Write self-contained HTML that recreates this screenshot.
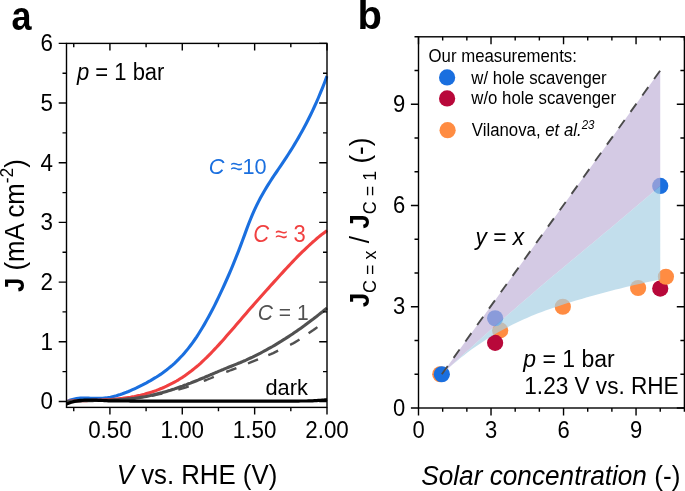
<!DOCTYPE html>
<html><head><meta charset="utf-8"><title>figure</title>
<style>html,body{margin:0;padding:0;background:#fff;}body{width:685px;height:491px;overflow:hidden;}svg{display:block;will-change:transform;font-family:"Liberation Sans",sans-serif;}text{fill:#000;}</style></head><body>
<svg width="685" height="491" viewBox="0 0 685 491">
<rect x="0" y="0" width="685" height="491" fill="#ffffff"/>
<g id="panelA">
<defs><clipPath id="clipA"><rect x="66.50" y="43.40" width="262.00" height="364.00"/></clipPath></defs>
<g clip-path="url(#clipA)" fill="none" stroke-linecap="butt" stroke-linejoin="round">
<path d="M66.5,401.9 L68.5,400.9 L70.5,400.0 L72.5,399.4 L74.5,398.9 L76.5,398.5 L78.5,398.2 L80.5,398.0 L82.5,398.0 L84.5,398.0 L86.5,398.0 L88.5,398.1 L90.5,398.2 L92.5,398.3 L94.5,398.4 L96.5,398.4 L98.5,398.4 L100.5,398.4 L102.5,398.3 L104.5,398.1 L106.5,397.9 L108.5,397.5 L110.5,397.2 L112.5,396.7 L114.5,396.2 L116.5,395.7 L118.5,395.1 L120.5,394.5 L122.5,393.8 L124.5,393.0 L126.5,392.3 L128.5,391.5 L130.5,390.6 L132.5,389.7 L134.5,388.8 L136.5,387.9 L138.5,386.9 L140.5,385.9 L142.5,384.9 L144.5,383.8 L146.5,382.8 L148.5,381.7 L150.5,380.6 L152.5,379.4 L154.5,378.2 L156.5,377.0 L158.5,375.7 L160.5,374.4 L162.5,373.0 L164.5,371.5 L166.5,370.0 L168.5,368.4 L170.5,366.8 L172.5,365.1 L174.5,363.3 L176.5,361.4 L178.5,359.4 L180.5,357.3 L182.5,355.2 L184.5,352.9 L186.5,350.6 L188.5,348.1 L190.5,345.5 L192.5,342.8 L194.5,340.0 L196.5,337.1 L198.5,334.0 L200.5,330.8 L202.5,327.5 L204.5,324.1 L206.5,320.6 L208.5,317.0 L210.5,313.3 L212.5,309.5 L214.5,305.6 L216.5,301.5 L218.5,297.4 L220.5,293.2 L222.5,288.9 L224.5,284.5 L226.5,280.0 L228.5,275.5 L230.5,270.8 L232.5,266.1 L234.5,261.2 L236.5,256.2 L238.5,251.1 L240.5,245.9 L242.5,240.5 L244.5,235.1 L246.5,229.6 L248.5,224.3 L250.5,219.2 L252.5,214.4 L254.5,209.9 L256.5,205.7 L258.5,201.6 L260.5,197.8 L262.5,194.2 L264.5,190.7 L266.5,187.4 L268.5,184.1 L270.5,181.0 L272.5,177.9 L274.5,174.9 L276.5,172.0 L278.5,169.0 L280.5,166.1 L282.5,163.1 L284.5,160.1 L286.5,157.1 L288.5,154.0 L290.5,150.9 L292.5,147.7 L294.5,144.4 L296.5,141.0 L298.5,137.6 L300.5,134.1 L302.5,130.5 L304.5,126.8 L306.5,123.0 L308.5,119.0 L310.5,115.0 L312.5,110.8 L314.5,106.5 L316.5,102.1 L318.5,97.5 L320.5,92.7 L322.5,87.8 L324.5,82.7 L326.5,77.4 L327.0,76.1" stroke="#1a6fdf" stroke-width="3.1"/>
<path d="M66.5,401.2 L68.5,401.2 L70.5,401.1 L72.5,401.0 L74.5,400.9 L76.5,400.9 L78.5,400.8 L80.5,400.8 L82.5,400.7 L84.5,400.6 L86.5,400.6 L88.5,400.5 L90.5,400.5 L92.5,400.4 L94.5,400.3 L96.5,400.3 L98.5,400.2 L100.5,400.1 L102.5,400.0 L104.5,399.9 L106.5,399.8 L108.5,399.7 L110.5,399.5 L112.5,399.4 L114.5,399.2 L116.5,399.0 L118.5,398.8 L120.5,398.6 L122.5,398.4 L124.5,398.1 L126.5,397.8 L128.5,397.5 L130.5,397.2 L132.5,396.8 L134.5,396.5 L136.5,396.1 L138.5,395.6 L140.5,395.2 L142.5,394.7 L144.5,394.2 L146.5,393.6 L148.5,393.0 L150.5,392.4 L152.5,391.8 L154.5,391.1 L156.5,390.4 L158.5,389.6 L160.5,388.8 L162.5,388.0 L164.5,387.1 L166.5,386.2 L168.5,385.2 L170.5,384.2 L172.5,383.2 L174.5,382.1 L176.5,381.0 L178.5,379.8 L180.5,378.5 L182.5,377.3 L184.5,375.9 L186.5,374.5 L188.5,373.1 L190.5,371.6 L192.5,370.0 L194.5,368.4 L196.5,366.8 L198.5,365.1 L200.5,363.3 L202.5,361.4 L204.5,359.5 L206.5,357.6 L208.5,355.6 L210.5,353.6 L212.5,351.5 L214.5,349.4 L216.5,347.3 L218.5,345.1 L220.5,342.9 L222.5,340.7 L224.5,338.4 L226.5,336.1 L228.5,333.8 L230.5,331.5 L232.5,329.2 L234.5,326.9 L236.5,324.6 L238.5,322.2 L240.5,319.9 L242.5,317.6 L244.5,315.2 L246.5,312.9 L248.5,310.6 L250.5,308.3 L252.5,306.1 L254.5,303.8 L256.5,301.5 L258.5,299.3 L260.5,297.0 L262.5,294.8 L264.5,292.5 L266.5,290.3 L268.5,288.1 L270.5,285.8 L272.5,283.6 L274.5,281.4 L276.5,279.2 L278.5,277.0 L280.5,274.8 L282.5,272.6 L284.5,270.4 L286.5,268.2 L288.5,266.1 L290.5,264.0 L292.5,261.9 L294.5,259.8 L296.5,257.7 L298.5,255.7 L300.5,253.7 L302.5,251.7 L304.5,249.8 L306.5,247.9 L308.5,246.0 L310.5,244.1 L312.5,242.3 L314.5,240.6 L316.5,238.8 L318.5,237.1 L320.5,235.5 L322.5,233.9 L324.5,232.4 L326.5,230.9 L327.0,230.5" stroke="#f14040" stroke-width="3.1"/>
<path d="M66.5,401.6 L68.5,401.5 L70.5,401.3 L72.5,401.2 L74.5,401.1 L76.5,401.1 L78.5,401.0 L80.5,400.9 L82.5,400.8 L84.5,400.8 L86.5,400.7 L88.5,400.7 L90.5,400.6 L92.5,400.6 L94.5,400.5 L96.5,400.5 L98.5,400.5 L100.5,400.4 L102.5,400.4 L104.5,400.3 L106.5,400.2 L108.5,400.2 L110.5,400.1 L112.5,400.0 L114.5,399.9 L116.5,399.8 L118.5,399.7 L120.5,399.6 L122.5,399.5 L124.5,399.3 L126.5,399.1 L128.5,398.9 L130.5,398.7 L132.5,398.5 L134.5,398.3 L136.5,398.0 L138.5,397.7 L140.5,397.4 L142.5,397.1 L144.5,396.8 L146.5,396.4 L148.5,396.0 L150.5,395.6 L152.5,395.1 L154.5,394.6 L156.5,394.1 L158.5,393.6 L160.5,393.1 L162.5,392.6 L164.5,392.0 L166.5,391.4 L168.5,390.8 L170.5,390.2 L172.5,389.5 L174.5,388.9 L176.5,388.2 L178.5,387.5 L180.5,386.8 L182.5,386.1 L184.5,385.3 L186.5,384.6 L188.5,383.8 L190.5,383.1 L192.5,382.3 L194.5,381.5 L196.5,380.7 L198.5,379.9 L200.5,379.0 L202.5,378.2 L204.5,377.4 L206.5,376.5 L208.5,375.7 L210.5,374.8 L212.5,374.0 L214.5,373.1 L216.5,372.3 L218.5,371.4 L220.5,370.6 L222.5,369.8 L224.5,368.9 L226.5,368.1 L228.5,367.3 L230.5,366.5 L232.5,365.7 L234.5,364.9 L236.5,364.1 L238.5,363.3 L240.5,362.5 L242.5,361.6 L244.5,360.8 L246.5,359.9 L248.5,358.9 L250.5,358.0 L252.5,357.1 L254.5,356.1 L256.5,355.1 L258.5,354.1 L260.5,353.1 L262.5,352.0 L264.5,350.9 L266.5,349.8 L268.5,348.7 L270.5,347.6 L272.5,346.5 L274.5,345.3 L276.5,344.1 L278.5,342.9 L280.5,341.7 L282.5,340.4 L284.5,339.2 L286.5,337.9 L288.5,336.6 L290.5,335.3 L292.5,334.0 L294.5,332.6 L296.5,331.2 L298.5,329.8 L300.5,328.4 L302.5,327.0 L304.5,325.6 L306.5,324.1 L308.5,322.6 L310.5,321.1 L312.5,319.6 L314.5,318.0 L316.5,316.5 L318.5,314.9 L320.5,313.3 L322.5,311.7 L324.5,310.0 L326.5,308.4 L327.0,308.0" stroke="#515151" stroke-width="3.1"/>
<path d="M70.6,401.6 L73.3,401.5 L76.0,401.4 L78.7,401.3 L81.4,401.2 M97.6,400.8 L100.3,400.7 L103.0,400.7 L105.7,400.6 L108.4,400.5 M124.6,399.6 L127.3,399.4 L130.0,399.2 L132.7,398.9 L135.4,398.6 M151.7,395.8 L154.4,395.3 L157.0,394.7 L159.6,394.1 L162.3,393.5 M178.3,389.6 L180.9,388.9 L183.5,388.1 L186.1,387.3 L188.7,386.4 M203.8,380.9 L206.3,380.0 L208.8,379.0 L211.3,378.0 L213.8,376.9 M226.2,371.9 L228.8,371.0 L231.3,370.0 L233.8,369.1 L236.4,368.1 M248.0,363.5 L250.5,362.4 L253.0,361.4 L255.5,360.4 L258.0,359.4 M268.3,355.2 L270.8,354.2 L273.2,353.1 L275.6,351.9 L278.1,350.7 M290.1,344.8 L292.5,343.7 L294.8,342.4 L297.1,341.0 L299.5,339.5 M308.6,333.3 L310.8,331.8 L313.0,330.3 L315.2,328.7 L317.4,327.1" stroke="#515151" stroke-width="2.4"/>
<path d="M66.5,404.0 L68.5,403.2 L70.5,402.5 L72.5,402.0 L74.5,401.4 L76.5,401.0 L78.5,400.6 L80.5,400.4 L82.5,400.3 L84.5,400.2 L86.5,400.2 L88.5,400.2 L90.5,400.2 L92.5,400.2 L94.5,400.2 L96.5,400.2 L98.5,400.3 L100.5,400.4 L102.5,400.5 L104.5,400.6 L106.5,400.7 L108.5,400.8 L110.5,400.8 L112.5,400.8 L114.5,400.9 L116.5,400.9 L118.5,400.9 L120.5,401.0 L122.5,401.0 L124.5,401.0 L126.5,401.0 L128.5,401.0 L130.5,401.1 L132.5,401.1 L134.5,401.1 L136.5,401.1 L138.5,401.1 L140.5,401.1 L142.5,401.1 L144.5,401.1 L146.5,401.1 L148.5,401.1 L150.5,401.1 L152.5,401.1 L154.5,401.1 L156.5,401.1 L158.5,401.1 L160.5,401.1 L162.5,401.1 L164.5,401.1 L166.5,401.1 L168.5,401.1 L170.5,401.1 L172.5,401.1 L174.5,401.1 L176.5,401.1 L178.5,401.1 L180.5,401.1 L182.5,401.1 L184.5,401.1 L186.5,401.1 L188.5,401.1 L190.5,401.1 L192.5,401.1 L194.5,401.1 L196.5,401.1 L198.5,401.1 L200.5,401.1 L202.5,401.1 L204.5,401.1 L206.5,401.1 L208.5,401.1 L210.5,401.1 L212.5,401.1 L214.5,401.1 L216.5,401.1 L218.5,401.1 L220.5,401.1 L222.5,401.1 L224.5,401.1 L226.5,401.1 L228.5,401.1 L230.5,401.1 L232.5,401.1 L234.5,401.1 L236.5,401.1 L238.5,401.1 L240.5,401.1 L242.5,401.1 L244.5,401.1 L246.5,401.1 L248.5,401.1 L250.5,401.1 L252.5,401.1 L254.5,401.1 L256.5,401.1 L258.5,401.1 L260.5,401.1 L262.5,401.1 L264.5,401.1 L266.5,401.1 L268.5,401.1 L270.5,401.1 L272.5,401.1 L274.5,401.1 L276.5,401.1 L278.5,401.1 L280.5,401.1 L282.5,401.1 L284.5,401.1 L286.5,401.1 L288.5,401.1 L290.5,401.1 L292.5,401.1 L294.5,401.1 L296.5,401.1 L298.5,401.1 L300.5,401.0 L302.5,401.0 L304.5,401.0 L306.5,401.0 L308.5,400.9 L310.5,400.9 L312.5,400.8 L314.5,400.7 L316.5,400.6 L318.5,400.4 L320.5,400.3 L322.5,400.0 L324.5,399.8 L326.5,399.5 L327.0,399.4" stroke="#000000" stroke-width="3.2"/>
</g>
<g stroke="#000" stroke-width="1.4" fill="none" stroke-linecap="butt">
<rect x="66.50" y="43.40" width="260.50" height="364.00"/>
<path d="M73.74,407.40v3.80 M73.74,43.40v3.80"/>
<path d="M109.92,407.40v7.20 M109.92,43.40v7.20"/>
<path d="M146.10,407.40v3.80 M146.10,43.40v3.80"/>
<path d="M182.28,407.40v7.20 M182.28,43.40v7.20"/>
<path d="M218.46,407.40v3.80 M218.46,43.40v3.80"/>
<path d="M254.64,407.40v7.20 M254.64,43.40v7.20"/>
<path d="M290.82,407.40v3.80 M290.82,43.40v3.80"/>
<path d="M327.00,407.40v7.20 M327.00,43.40v7.20"/>
<path d="M66.50,401.43h-7.80 M327.00,401.43h-7.80"/>
<path d="M66.50,371.60h-4.00 M327.00,371.60h-4.00"/>
<path d="M66.50,341.76h-7.80 M327.00,341.76h-7.80"/>
<path d="M66.50,311.92h-4.00 M327.00,311.92h-4.00"/>
<path d="M66.50,282.09h-7.80 M327.00,282.09h-7.80"/>
<path d="M66.50,252.25h-4.00 M327.00,252.25h-4.00"/>
<path d="M66.50,222.42h-7.80 M327.00,222.42h-7.80"/>
<path d="M66.50,192.58h-4.00 M327.00,192.58h-4.00"/>
<path d="M66.50,162.74h-7.80 M327.00,162.74h-7.80"/>
<path d="M66.50,132.91h-4.00 M327.00,132.91h-4.00"/>
<path d="M66.50,103.07h-7.80 M327.00,103.07h-7.80"/>
<path d="M66.50,73.24h-4.00 M327.00,73.24h-4.00"/>
<path d="M66.50,43.40h-7.80 M327.00,43.40h-7.80"/>
</g>
<g font-size="22.4" text-anchor="middle">
<text transform="translate(109.92,437.6) scale(1,1.05)">0.50</text>
<text transform="translate(182.28,437.6) scale(1,1.05)">1.00</text>
<text transform="translate(254.64,437.6) scale(1,1.05)">1.50</text>
<text transform="translate(327.00,437.6) scale(1,1.05)">2.00</text>
</g>
<g font-size="22.4" text-anchor="end">
<text transform="translate(53,409.33) scale(1,1.05)">0</text>
<text transform="translate(53,349.66) scale(1,1.05)">1</text>
<text transform="translate(53,289.99) scale(1,1.05)">2</text>
<text transform="translate(53,230.32) scale(1,1.05)">3</text>
<text transform="translate(53,170.64) scale(1,1.05)">4</text>
<text transform="translate(53,110.97) scale(1,1.05)">5</text>
<text transform="translate(53,51.30) scale(1,1.05)">6</text>
</g>
<text transform="translate(197,483.5) scale(1,1.05)" font-size="25.8" text-anchor="middle"><tspan font-style="italic">V</tspan> vs. RHE (V)</text>
<text transform="translate(24.3,225.6) rotate(-90) scale(1,1.05)" font-size="25.8" text-anchor="middle"><tspan font-weight="bold">J</tspan> (mA cm<tspan font-size="17.5" dy="-10.5">-2</tspan><tspan dy="10.5">)</tspan></text>
<text transform="translate(11.6,29.6) scale(0.90,1)" font-size="40" font-weight="bold">a</text>
<text transform="translate(77,80) scale(1,1.05)" font-size="22"><tspan font-style="italic">p</tspan> = 1 bar</text>
<text transform="translate(208.8,174.3) scale(1,1.05)" font-size="21.7" style="fill:#1a6fdf"><tspan font-style="italic">C</tspan> ≈10</text>
<text transform="translate(253.2,242.2) scale(1,1.05)" font-size="22" style="fill:#f14040"><tspan font-style="italic">C</tspan> ≈ 3</text>
<text transform="translate(257.8,320.3) scale(1,1.05)" font-size="21" style="fill:#515151"><tspan font-style="italic">C</tspan> = 1</text>
<text transform="translate(265.4,395) scale(1,1.05)" font-size="21.8">dark</text>
</g>
<g id="panelB">
<circle cx="440.26" cy="374.25" r="8.10" fill="#ff8c42"/>
<circle cx="500.20" cy="330.39" r="8.10" fill="#ff8c42"/>
<circle cx="562.81" cy="306.76" r="8.10" fill="#ff8c42"/>
<circle cx="638.11" cy="288.00" r="8.10" fill="#ff8c42"/>
<circle cx="495.13" cy="342.87" r="8.10" fill="#b8083a"/>
<circle cx="660.23" cy="288.54" r="8.10" fill="#b8083a"/>
<circle cx="665.91" cy="276.73" r="8.10" fill="#ff8c42"/>
<circle cx="441.83" cy="374.25" r="8.10" fill="#1a6fdf"/>
<circle cx="495.13" cy="318.24" r="8.10" fill="#1a6fdf"/>
<circle cx="660.23" cy="185.95" r="8.10" fill="#1a6fdf"/>
<path d="M441.83,374.25 L447.43,369.08 L453.03,363.94 L458.63,358.82 L464.23,353.73 L469.83,348.65 L475.43,343.60 L481.03,338.58 L486.63,333.57 L492.23,328.59 L497.83,323.64 L503.43,318.70 L509.03,313.79 L514.63,308.91 L520.23,304.04 L525.83,299.20 L531.43,294.39 L537.03,289.60 L542.63,284.83 L548.23,280.08 L553.83,275.36 L559.43,270.66 L565.03,265.98 L570.63,261.33 L576.23,256.69 L581.83,252.03 L587.43,247.37 L593.03,242.70 L598.63,238.02 L604.23,233.34 L609.83,228.64 L615.43,223.93 L621.03,219.22 L626.63,214.49 L632.23,209.76 L637.83,205.02 L643.43,200.27 L649.03,195.51 L654.63,190.74 L660.23,185.96 L660.23,70.55 L441.83,374.25 Z" fill="#c0b1d7" fill-opacity="0.68"/>
<path d="M441.83,374.26 L445.53,370.82 L449.23,367.49 L452.93,364.26 L456.63,361.14 L460.34,358.11 L464.04,355.18 L467.74,352.34 L471.44,349.60 L475.14,346.94 L478.84,344.38 L482.55,341.90 L486.25,339.50 L489.95,337.18 L493.65,334.94 L497.35,332.78 L501.05,330.69 L504.76,328.67 L508.46,326.72 L512.16,324.84 L515.86,323.02 L519.56,321.27 L523.26,319.58 L526.97,317.94 L530.67,316.36 L534.37,314.84 L538.07,313.36 L541.77,311.94 L545.47,310.56 L549.18,309.23 L552.88,307.94 L556.58,306.68 L560.28,305.46 L563.98,304.28 L567.68,303.12 L571.39,301.98 L575.09,300.86 L578.79,299.76 L582.49,298.68 L586.19,297.62 L589.89,296.57 L593.60,295.53 L597.30,294.50 L601.00,293.49 L604.70,292.50 L608.40,291.51 L612.11,290.55 L615.81,289.60 L619.51,288.66 L623.21,287.74 L626.91,286.84 L630.61,285.95 L634.32,285.07 L638.02,284.22 L641.72,283.38 L645.42,282.56 L649.12,281.75 L652.82,280.96 L656.53,280.19 L660.23,279.44 L660.23,185.96 L654.63,190.74 L649.03,195.51 L643.43,200.27 L637.83,205.02 L632.23,209.76 L626.63,214.49 L621.03,219.22 L615.43,223.93 L609.83,228.64 L604.23,233.34 L598.63,238.02 L593.03,242.70 L587.43,247.37 L581.83,252.03 L576.23,256.69 L570.63,261.33 L565.03,265.98 L559.43,270.66 L553.83,275.36 L548.23,280.08 L542.63,284.83 L537.03,289.60 L531.43,294.39 L525.83,299.20 L520.23,304.04 L514.63,308.91 L509.03,313.79 L503.43,318.70 L497.83,323.64 L492.23,328.59 L486.63,333.57 L481.03,338.58 L475.43,343.60 L469.83,348.65 L464.23,353.73 L458.63,358.82 L453.03,363.94 L447.43,369.08 L441.83,374.25 Z" fill="#a8d0e4" fill-opacity="0.70"/>
<path d="M441.83,374.25 L660.23,70.55" stroke="#4a4a4a" stroke-width="1.9" stroke-dasharray="10.2 10.0" fill="none"/>
<g stroke="#000" stroke-width="1.4" fill="none">
<rect x="418.50" y="36.80" width="265.90" height="371.20"/>
<path d="M418.50,408.00v7.40 M418.50,36.80v7.40"/>
<path d="M418.50,408.00h-7.60 M684.40,408.00h-7.60"/>
<path d="M442.67,408.00v3.80 M442.67,36.80v3.80"/>
<path d="M418.50,374.25h-4.00 M684.40,374.25h-4.00"/>
<path d="M466.85,408.00v3.80 M466.85,36.80v3.80"/>
<path d="M418.50,340.51h-4.00 M684.40,340.51h-4.00"/>
<path d="M491.02,408.00v7.40 M491.02,36.80v7.40"/>
<path d="M418.50,306.76h-7.60 M684.40,306.76h-7.60"/>
<path d="M515.19,408.00v3.80 M515.19,36.80v3.80"/>
<path d="M418.50,273.02h-4.00 M684.40,273.02h-4.00"/>
<path d="M539.36,408.00v3.80 M539.36,36.80v3.80"/>
<path d="M418.50,239.27h-4.00 M684.40,239.27h-4.00"/>
<path d="M563.54,408.00v7.40 M563.54,36.80v7.40"/>
<path d="M418.50,205.53h-7.60 M684.40,205.53h-7.60"/>
<path d="M587.71,408.00v3.80 M587.71,36.80v3.80"/>
<path d="M418.50,171.78h-4.00 M684.40,171.78h-4.00"/>
<path d="M611.88,408.00v3.80 M611.88,36.80v3.80"/>
<path d="M418.50,138.04h-4.00 M684.40,138.04h-4.00"/>
<path d="M636.05,408.00v7.40 M636.05,36.80v7.40"/>
<path d="M418.50,104.29h-7.60 M684.40,104.29h-7.60"/>
<path d="M660.23,408.00v3.80 M660.23,36.80v3.80"/>
<path d="M418.50,70.55h-4.00 M684.40,70.55h-4.00"/>
<path d="M684.40,408.00v3.80 M684.40,36.80v3.80"/>
<path d="M418.50,36.80h-4.00 M684.40,36.80h-4.00"/>
</g>
<g font-size="22" text-anchor="middle">
<text transform="translate(418.50,438.4) scale(1,1.05)">0</text>
<text transform="translate(491.02,438.4) scale(1,1.05)">3</text>
<text transform="translate(563.54,438.4) scale(1,1.05)">6</text>
<text transform="translate(636.05,438.4) scale(1,1.05)">9</text>
</g>
<g font-size="22" text-anchor="end">
<text transform="translate(405.2,415.60) scale(1,1.05)">0</text>
<text transform="translate(405.2,314.36) scale(1,1.05)">3</text>
<text transform="translate(405.2,213.13) scale(1,1.05)">6</text>
<text transform="translate(405.2,111.89) scale(1,1.05)">9</text>
</g>
<text transform="translate(550.8,484.6) scale(1,1.05)" font-size="26.2" text-anchor="middle"><tspan font-style="italic">Solar concentration</tspan> (-)</text>
<text transform="translate(368.6,222.5) rotate(-90) scale(1,1.05)" font-size="26" text-anchor="middle"><tspan font-weight="bold">J</tspan><tspan font-size="18" dy="7.3">C = x</tspan><tspan dy="-7.3"> / </tspan><tspan font-weight="bold">J</tspan><tspan font-size="18" dy="7.3">C = 1</tspan><tspan dy="-7.3"> (-)</tspan></text>
<text transform="translate(357.4,28.7) scale(1,1)" font-size="40" font-weight="bold">b</text>
<g font-size="16.8">
<text transform="translate(428.5,62.4) scale(1,1.05)">Our measurements:</text>
<circle cx="447.1" cy="77.4" r="8.1" fill="#1a6fdf"/>
<text transform="translate(471.3,84.0) scale(1,1.05)">w/ hole scavenger</text>
<circle cx="447.1" cy="98.4" r="8.1" fill="#b8083a"/>
<text transform="translate(471.3,104.4) scale(1,1.05)">w/o hole scavenger</text>
<circle cx="447.6" cy="130.2" r="8.1" fill="#ff8c42"/>
<text transform="translate(471.8,136.1) scale(1,1.05)">Vilanova, <tspan font-style="italic">et al.</tspan><tspan font-style="italic" font-size="11.5" dy="-6.8">23</tspan></text>
</g>
<text transform="translate(475.6,245) scale(1,1.05)" font-size="22.7"><tspan font-style="italic">y</tspan> = <tspan font-style="italic">x</tspan></text>
<text transform="translate(523.3,367) scale(1,1.05)" font-size="23"><tspan font-style="italic">p</tspan> = 1 bar</text>
<text transform="translate(524.3,394) scale(1,1.05)" font-size="22.6">1.23 V vs. RHE</text>
</g>
</svg></body></html>
